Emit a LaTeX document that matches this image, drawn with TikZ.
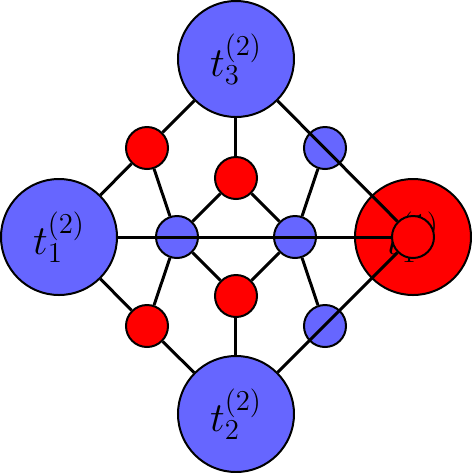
\documentclass[tikz,border=0pt]{standalone}
\usetikzlibrary{backgrounds}
\begin{document}
\begin{tikzpicture}[x=0.5pt,y=-0.5pt,
  big/.style={circle,draw=black,line width=1pt,minimum size=58pt,inner sep=0pt,font=\huge},
  small/.style={circle,draw=black,line width=1pt,minimum size=21pt,inner sep=0pt},
  bluefill/.style={fill=blue!60},
  redfill/.style={fill=red},
  edge/.style={draw=black,line width=1.5pt}]
\useasboundingbox (0,0) rectangle (472,473);
\node[big,bluefill] (t3) at (236,59) {$t_3^{(2)}$};
\node[big,bluefill] (t1) at (59,237) {$t_1^{(2)}$};
\node[big,bluefill] (t2) at (236,414) {$t_2^{(2)}$};
\node[big,redfill] (T) at (413,237) {$t_1^{(1)}$};
\node[small,redfill] (a) at (147,148) {};
\node[small,redfill] (b) at (236,178) {};
\node[small,bluefill] (c) at (325,148) {};
\node[small,bluefill] (d) at (177,237) {};
\node[small,bluefill] (e) at (295,237) {};
\node[small,redfill] (f) at (236,296) {};
\node[small,redfill] (g) at (147,326) {};
\node[small,bluefill] (h) at (325,326) {};
\node[small,redfill] (sr) at (413,237) {};
\begin{scope}[on background layer]
\draw[edge] (t3) -- (a);
\draw[edge] (a) -- (t1);
\draw[edge] (t3) -- (b);
\draw[edge] (t1) -- (g);
\draw[edge] (g) -- (t2);
\draw[edge] (t2) -- (f);
\draw[edge] (a) -- (d);
\draw[edge] (b) -- (d);
\draw[edge] (b) -- (e);
\draw[edge] (c) -- (e);
\draw[edge] (d) -- (g);
\draw[edge] (d) -- (f);
\draw[edge] (e) -- (f);
\draw[edge] (e) -- (h);
\end{scope}
\draw[edge] (t3) -- (sr);
\draw[edge] (t1) -- (sr);
\draw[edge] (t2) -- (sr);
\end{tikzpicture}
\end{document}
